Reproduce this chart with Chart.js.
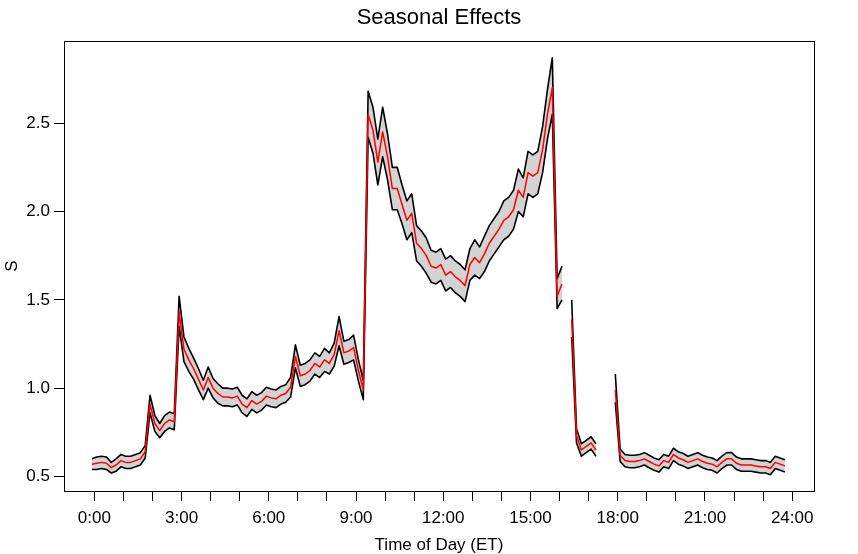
<!DOCTYPE html>
<html>
<head>
<meta charset="utf-8">
<title>Seasonal Effects</title>
<script src="https://cdn.jsdelivr.net/npm/chart.js@4.4.1/dist/chart.umd.min.js"></script>
<style>
  html, body { margin: 0; padding: 0; background: #fff; }
  canvas { display: block; }
</style>
</head>
<body>
<canvas id="seasonalChart" width="858" height="554"></canvas>
<script>
// 10-minute bins, minutes after midnight
const minutes = Array.from({ length: 144 }, (_, i) => -5 + 10 * i);

// seasonal estimate (red line)
const seasonal = [
  0.57, 0.575, 0.58, 0.575, 0.55, 0.565, 0.59, 0.58, 0.58, 0.59,
  0.60, 0.64, 0.91, 0.80, 0.76, 0.80, 0.82, 0.81, 1.43, 1.22,
  1.16, 1.11, 1.05, 0.99, 1.06, 1.00, 0.97, 0.95, 0.95, 0.945,
  0.955, 0.91, 0.89, 0.93, 0.91, 0.925, 0.955, 0.945, 0.94, 0.96,
  0.97, 1.005, 1.18, 1.07, 1.08, 1.10, 1.14, 1.12, 1.16, 1.14,
  1.19, 1.325, 1.20, 1.21, 1.23, 1.10, 0.99, 2.55, 2.46, 2.28,
  2.45, 2.31, 2.13, 2.13, 2.04, 1.95, 1.99, 1.82, 1.79, 1.75,
  1.69, 1.68, 1.70, 1.64, 1.66, 1.63, 1.61, 1.58, 1.70, 1.74,
  1.71, 1.76, 1.82, 1.86, 1.90, 1.95, 1.97, 2.01, 2.12, 2.08,
  2.22, 2.20, 2.22, 2.35, 2.55, 2.70, 1.52, 1.59, null, 1.39,
  0.73, 0.65, 0.67, 0.69, 0.65, null, null, null, 0.99, 0.62,
  0.59, 0.585, 0.585, 0.59, 0.60, 0.585, 0.57, 0.56, 0.59, 0.58,
  0.625, 0.605, 0.595, 0.58, 0.59, 0.60, 0.585, 0.575, 0.57, 0.555,
  0.58, 0.60, 0.60, 0.575, 0.565, 0.565, 0.565, 0.56, 0.555, 0.555,
  0.545, 0.58, 0.57, 0.56
];

// upper confidence bound
const upperBand = [
  0.60, 0.61, 0.615, 0.61, 0.58, 0.60, 0.625, 0.615, 0.615, 0.625,
  0.635, 0.675, 0.96, 0.845, 0.80, 0.845, 0.865, 0.855, 1.52, 1.29,
  1.225, 1.17, 1.11, 1.045, 1.12, 1.055, 1.025, 1.00, 1.00, 0.995,
  1.005, 0.96, 0.94, 0.98, 0.96, 0.975, 1.005, 0.995, 0.99, 1.01,
  1.02, 1.06, 1.245, 1.13, 1.14, 1.16, 1.20, 1.18, 1.225, 1.20,
  1.255, 1.405, 1.265, 1.275, 1.30, 1.16, 1.045, 2.68, 2.59, 2.41,
  2.59, 2.44, 2.25, 2.25, 2.15, 2.06, 2.10, 1.92, 1.89, 1.85,
  1.78, 1.77, 1.79, 1.73, 1.75, 1.72, 1.70, 1.67, 1.79, 1.84,
  1.80, 1.86, 1.92, 1.96, 2.00, 2.06, 2.08, 2.12, 2.24, 2.19,
  2.34, 2.32, 2.34, 2.48, 2.69, 2.87, 1.62, 1.69, null, 1.50,
  0.77, 0.685, 0.705, 0.725, 0.685, null, null, null, 1.08, 0.655,
  0.625, 0.62, 0.62, 0.625, 0.635, 0.62, 0.605, 0.595, 0.625, 0.615,
  0.66, 0.64, 0.63, 0.615, 0.625, 0.635, 0.62, 0.61, 0.605, 0.59,
  0.615, 0.635, 0.635, 0.61, 0.60, 0.60, 0.60, 0.595, 0.59, 0.59,
  0.58, 0.615, 0.605, 0.595
];

// lower confidence bound
const lowerBand = [
  0.54, 0.54, 0.545, 0.54, 0.52, 0.53, 0.555, 0.545, 0.545, 0.555,
  0.565, 0.605, 0.86, 0.755, 0.72, 0.755, 0.775, 0.765, 1.35, 1.15,
  1.095, 1.05, 0.99, 0.935, 1.00, 0.945, 0.915, 0.90, 0.90, 0.895,
  0.905, 0.86, 0.84, 0.88, 0.86, 0.875, 0.905, 0.895, 0.89, 0.91,
  0.92, 0.95, 1.115, 1.01, 1.02, 1.04, 1.08, 1.06, 1.095, 1.08,
  1.125, 1.24, 1.135, 1.145, 1.16, 1.04, 0.935, 2.42, 2.33, 2.15,
  2.31, 2.18, 2.01, 2.01, 1.93, 1.84, 1.88, 1.72, 1.69, 1.65,
  1.60, 1.59, 1.61, 1.55, 1.57, 1.54, 1.52, 1.49, 1.61, 1.64,
  1.62, 1.66, 1.72, 1.76, 1.80, 1.84, 1.86, 1.90, 2.00, 1.97,
  2.10, 2.08, 2.10, 2.22, 2.41, 2.55, 1.45, 1.50, null, 1.29,
  0.69, 0.615, 0.635, 0.655, 0.615, null, null, null, 0.92, 0.585,
  0.555, 0.55, 0.55, 0.555, 0.565, 0.55, 0.535, 0.525, 0.555, 0.545,
  0.59, 0.57, 0.56, 0.545, 0.555, 0.565, 0.55, 0.54, 0.535, 0.52,
  0.545, 0.565, 0.565, 0.54, 0.53, 0.53, 0.53, 0.525, 0.52, 0.52,
  0.51, 0.545, 0.535, 0.525
];

// axes
const hourTicks = [0, 1, 2, 3, 4, 5, 6, 7, 8, 9, 10, 11, 12, 13, 14, 15, 16, 17, 18, 19, 20, 21, 22, 23, 24];
const hourLabels = ['0:00', '3:00', '6:00', '9:00', '12:00', '15:00', '18:00', '21:00', '24:00'];
const sTicks = [0.5, 1.0, 1.5, 2.0, 2.5];

const toPoints = (arr) => arr.map((v, i) => ({ x: minutes[i] / 60, y: v }));

const baseFont = { family: '"Liberation Sans", Arial, sans-serif', size: 17 };

// black frame around the plot region
const frameBox = {
  id: 'frameBox',
  afterDatasetsDraw(chart) {
    const { ctx, chartArea: a } = chart;
    ctx.save();
    ctx.strokeStyle = '#000';
    ctx.lineWidth = 1;
    ctx.strokeRect(a.left + 0.5, a.top + 0.5, a.right - a.left, a.bottom - a.top);
    ctx.restore();
  }
};

new Chart(document.getElementById('seasonalChart'), {
  type: 'line',
  data: {
    datasets: [
      {
        label: 'upper',
        data: toPoints(upperBand),
        borderColor: '#000',
        borderWidth: 1.6,
        fill: false,
        order: 1
      },
      {
        label: 'lower',
        data: toPoints(lowerBand),
        borderColor: '#000',
        borderWidth: 1.6,
        backgroundColor: '#d3d3d3',
        fill: '-1',
        order: 1
      },
      {
        label: 'S',
        data: toPoints(seasonal),
        borderColor: '#ff0000',
        borderWidth: 1.5,
        fill: false,
        order: 0
      }
    ]
  },
  options: {
    responsive: false,
    animation: false,
    devicePixelRatio: 1,
    spanGaps: false,
    elements: {
      point: { radius: 0, hoverRadius: 0 },
      line: { tension: 0, borderJoinStyle: 'round' }
    },
    layout: { padding: { top: 0, left: 0, right: 44, bottom: 0 } },
    plugins: {
      legend: { display: false },
      tooltip: { enabled: false },
      title: {
        display: true,
        fullSize: false,
        text: 'Seasonal Effects',
        color: '#000',
        font: { family: baseFont.family, size: 22, weight: 'normal', lineHeight: 1.2 },
        padding: { top: 5, bottom: 9.6 }
      }
    },
    scales: {
      x: {
        type: 'linear',
        min: -1.042,
        max: 24.75,
        afterBuildTicks: (scale) => { scale.ticks = hourTicks.map(v => ({ value: v })); },
        afterFit: (scale) => { scale.height = 63; },
        border: { display: false },
        grid: { drawOnChartArea: false, drawTicks: true, tickLength: 10, color: '#000', lineWidth: 1 },
        ticks: {
          autoSkip: false,
          maxRotation: 0,
          padding: 7,
          color: '#000',
          font: baseFont,
          callback: (v) => (v % 3 === 0 ? hourLabels[v / 3] : '')
        },
        title: {
          display: true,
          text: 'Time of Day (ET)',
          color: '#000',
          font: { family: baseFont.family, size: 17, lineHeight: 1.0 },
          padding: { top: 0, bottom: 0 }
        }
      },
      y: {
        type: 'linear',
        min: 0.418,
        max: 2.965,
        afterBuildTicks: (scale) => { scale.ticks = sTicks.map(v => ({ value: v })); },
        afterFit: (scale) => { scale.width = 64; },
        border: { display: false },
        grid: { drawOnChartArea: false, drawTicks: true, tickLength: 10, color: '#000', lineWidth: 1 },
        ticks: {
          padding: 4,
          color: '#000',
          font: baseFont,
          callback: (v) => v.toFixed(1)
        },
        title: {
          display: true,
          text: 'S',
          color: '#000',
          font: baseFont,
          padding: { top: 2, bottom: 0 }
        }
      }
    }
  },
  plugins: [frameBox]
});
</script>
</body>
</html>
